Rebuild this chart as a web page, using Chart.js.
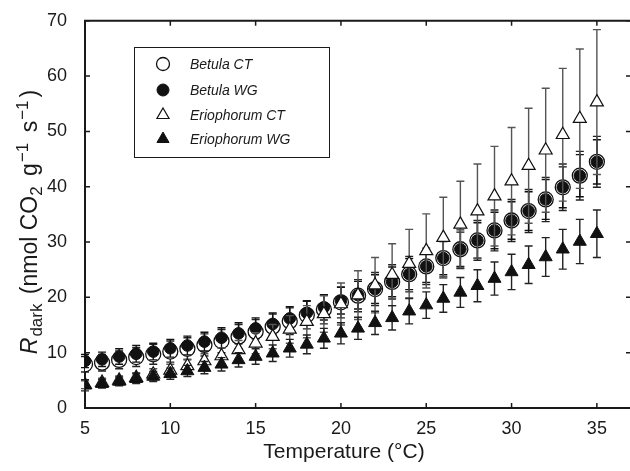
<!DOCTYPE html>
<html>
<head>
<meta charset="utf-8">
<script src="https://cdn.jsdelivr.net/npm/chart.js@4"></script>
<style>
html,body{margin:0;padding:0;background:#fff;overflow:hidden;width:630px;height:471px;}
canvas{display:block;}
</style>
</head>
<body>
<canvas id="c" width="640" height="471" style="width:640px;height:471px"></canvas>
<script>
const temps = [5,6,7,8,9,10,11,12,13,14,15,16,17,18,19,20,21,22,23,24,25,26,27,28,29,30,31,32,33,34,35];
const xTickValues = [5,10,15,20,25,30,35];
const yTickValues = [0,10,20,30,40,50,60,70];
const seriesNames = ['Betula CT','Betula WG','Eriophorum CT','Eriophorum WG'];

const betulaCT = [7.9,8.2,8.7,9.2,9.7,10.2,10.7,11.4,12.1,12.9,13.8,14.7,15.7,16.8,17.8,19.1,20.3,21.5,22.8,24.2,25.6,27.1,28.7,30.3,32.1,33.9,35.6,37.7,39.9,42.0,44.5];
const betulaCTerr = [1.4,1.5,1.6,1.7,1.8,1.9,2.0,2.0,2.1,2.2,2.2,2.3,2.4,2.5,2.6,2.8,2.9,3.0,3.1,3.2,3.3,3.4,3.5,3.6,3.7,3.8,3.9,4.0,4.2,4.4,4.6];
const betulaWG = [8.5,8.8,9.3,9.8,10.2,10.8,11.3,12.0,12.7,13.5,14.4,15.2,16.2,17.2,18.2,19.4,20.4,21.5,22.8,24.2,25.6,27.1,28.7,30.3,32.1,33.9,35.6,37.7,39.9,42.0,44.5];
const betulaWGerr = [1.2,1.3,1.4,1.5,1.5,1.6,1.7,1.7,1.8,1.9,1.9,2.0,2.1,2.2,2.3,2.4,2.5,2.6,2.7,2.8,2.9,3.0,3.1,3.2,3.3,3.4,3.5,3.6,3.7,3.8,4.0];
const erioCT = [4.2,4.6,5.0,5.5,6.1,6.8,7.6,8.5,9.4,10.5,11.7,12.9,14.2,15.6,17.0,18.8,20.4,22.2,24.1,26.1,28.4,30.8,33.2,35.6,38.3,41.0,43.8,46.6,49.4,52.3,55.3];
const erioCTerr = [0.7,0.8,0.8,0.9,1.0,1.1,1.2,1.3,1.5,1.7,1.9,2.2,2.5,2.9,3.3,3.8,4.4,5.0,5.6,6.2,6.7,7.3,7.8,8.5,9.0,9.7,10.4,11.2,12.0,12.6,13.1];
const erioWG = [4.1,4.4,4.8,5.3,5.7,6.2,6.7,7.3,7.9,8.7,9.3,9.9,10.8,11.5,12.6,13.5,14.4,15.4,16.3,17.5,18.6,19.8,20.9,22.1,23.4,24.6,25.9,27.3,28.7,30.1,31.5];
const erioWGerr = [1.0,0.8,0.8,0.9,0.9,1.0,1.0,1.1,1.2,1.3,1.4,1.5,1.6,1.7,1.8,1.9,2.0,2.1,2.2,2.3,2.4,2.5,2.7,2.9,3.0,3.2,3.4,3.5,3.6,4.0,4.3];

const toPts = arr => temps.map((t,i)=>({x:t,y:arr[i]}));
const FONT = '"Liberation Sans", Arial, Helvetica, sans-serif';
const INK = '#1a1a1a';

const errorBars = {
  id:'errorBars',
  beforeDatasetDraw(chart, args){
    const ds = chart.data.datasets[args.index];
    if(!ds.errors) return;
    const xs = chart.scales.x, ys = chart.scales.y, ctx = chart.ctx;
    ctx.save();
    ctx.strokeStyle = ds.errColor; ctx.lineWidth = ds.errWidth;
    ds.data.forEach((p,i)=>{
      const px = xs.getPixelForValue(p.x);
      const t = ys.getPixelForValue(p.y + ds.errors[i]);
      const b = ys.getPixelForValue(p.y - ds.errors[i]);
      ctx.beginPath();
      ctx.moveTo(px,t); ctx.lineTo(px,b);
      ctx.moveTo(px-4,t); ctx.lineTo(px+4,t);
      ctx.moveTo(px-4,b); ctx.lineTo(px+4,b);
      ctx.stroke();
    });
    ctx.restore();
  }
};

const frame = {
  id:'frame',
  beforeDatasetsDraw(chart){
    const {ctx, chartArea:a} = chart; const xs = chart.scales.x, ys = chart.scales.y;
    ctx.save();
    ctx.strokeStyle = INK; ctx.lineWidth = 2;
    ctx.beginPath();
    ctx.moveTo(a.left, a.top); ctx.lineTo(a.right, a.top); ctx.lineTo(a.right, a.bottom);
    ctx.lineTo(a.left, a.bottom); ctx.closePath();
    ctx.stroke();
    ctx.lineWidth = 1.5;
    ctx.beginPath();
    xTickValues.forEach(v=>{
      const px = xs.getPixelForValue(v);
      ctx.moveTo(px, a.bottom); ctx.lineTo(px, a.bottom-5);
      ctx.moveTo(px, a.top); ctx.lineTo(px, a.top+5);
    });
    yTickValues.forEach(v=>{
      const py = ys.getPixelForValue(v);
      ctx.moveTo(a.left, py); ctx.lineTo(a.left+5, py);
      ctx.moveTo(a.right, py); ctx.lineTo(a.right-5, py);
    });
    ctx.stroke();
    ctx.restore();
  },
  afterDraw(chart){
    const ctx = chart.ctx;
    ctx.save();
    ctx.fillStyle = INK;
    // x title
    ctx.font = '21px ' + FONT;
    ctx.textAlign = 'center'; ctx.textBaseline = 'middle';
    ctx.fillText('Temperature (\u00B0C)', 344, 452);
    // y title with sub/superscripts
    const big = 23, small = 17;
    const parts = [
      {t:'R', f:'italic '+big+'px '+FONT, dy:0, gap:1},
      {t:'dark', f:small+'px '+FONT, dy:5, gap:3},
      {t:' (nmol CO', f:big+'px '+FONT, dy:0, gap:0},
      {t:'2', f:small+'px '+FONT, dy:5, gap:4},
      {t:' g', f:big+'px '+FONT, dy:0, gap:1},
      {t:'\u22121', f:small+'px '+FONT, dy:-9, gap:4},
      {t:' s', f:big+'px '+FONT, dy:0, gap:1},
      {t:'\u22121', f:small+'px '+FONT, dy:-9, gap:3},
      {t:')', f:big+'px '+FONT, dy:0, gap:0}
    ];
    let total = 0;
    parts.forEach(p=>{ctx.font=p.f; p.w = ctx.measureText(p.t).width + p.gap; total += p.w;});
    ctx.translate(37, 222);
    ctx.rotate(-Math.PI/2);
    ctx.textAlign = 'left'; ctx.textBaseline = 'alphabetic';
    let x = -total/2;
    parts.forEach(p=>{ctx.font=p.f; ctx.fillText(p.t, x, p.dy); x += p.w;});
    ctx.restore();

    // legend
    ctx.save();
    ctx.strokeStyle = INK; ctx.lineWidth = 1;
    ctx.strokeRect(134.5, 47.5, 195, 110);
    const rows = [64, 90, 115, 139];
    chart.data.datasets.forEach((ds,i)=>{
      const y = rows[i];
      ctx.fillStyle = ds.backgroundColor; ctx.strokeStyle = ds.borderColor; ctx.lineWidth = ds.borderWidth;
      Chart.helpers.drawPoint(ctx, {pointStyle: ds.pointStyle, rotation:0, borderWidth: ds.borderWidth, radius: ds.legendRadius}, 163, y);
      ctx.fillStyle = INK;
      ctx.font = 'italic 14px ' + FONT;
      ctx.textAlign = 'left'; ctx.textBaseline = 'middle';
      ctx.fillText(ds.label, 190, y+1);
    });
    ctx.restore();
  }
};

const chart = new Chart(document.getElementById('c'), {
  type:'scatter',
  data:{
    datasets:[
      {label:seriesNames[0], data:toPts(betulaCT), errors:betulaCTerr, errColor:'#222', errWidth:1.4,
       pointStyle:'circle', pointRadius:7.5, backgroundColor:'#ffffff', borderColor:'#111', borderWidth:1.3, legendRadius:6.5, order:4},
      {label:seriesNames[1], data:toPts(betulaWG), errors:betulaWGerr, errColor:'#111', errWidth:1.4,
       pointStyle:'circle', pointRadius:5.8, backgroundColor:'#111', borderColor:'#111', borderWidth:1, legendRadius:6, order:3},
      {label:seriesNames[2], data:toPts(erioCT), errors:erioCTerr, errColor:'#555', errWidth:1.4,
       pointStyle:'triangle', pointRadius:7.5, backgroundColor:'#ffffff', borderColor:'#111', borderWidth:1.2, legendRadius:7, order:2},
      {label:seriesNames[3], data:toPts(erioWG), errors:erioWGerr, errColor:'#222', errWidth:1.4,
       pointStyle:'triangle', pointRadius:7.5, backgroundColor:'#111', borderColor:'#111', borderWidth:1, legendRadius:7, order:1}
    ]
  },
  options:{
    responsive:false, animation:false, devicePixelRatio:1,
    layout:{padding:{left:0, top:13, right:9, bottom:0}},
    plugins:{legend:{display:false}, tooltip:{enabled:false}},
    elements:{point:{hoverRadius:7.5}},
    scales:{
      x:{type:'linear', min:5, max:37,
         grid:{display:false}, border:{display:false},
         afterBuildTicks:s=>{s.ticks = xTickValues.map(v=>({value:v}));},
         afterFit:s=>{s.height = 63;},
         ticks:{padding:2, color:INK, font:{family:FONT, size:18}, maxRotation:0, autoSkip:false}},
      y:{type:'linear', min:0, max:70,
         grid:{display:false}, border:{display:false},
         afterBuildTicks:s=>{s.ticks = yTickValues.map(v=>({value:v}));},
         afterFit:s=>{s.width = 85;},
         ticks:{padding:10, color:INK, font:{family:FONT, size:18}}}
    }
  },
  plugins:[errorBars, frame]
});
</script>
</body>
</html>
